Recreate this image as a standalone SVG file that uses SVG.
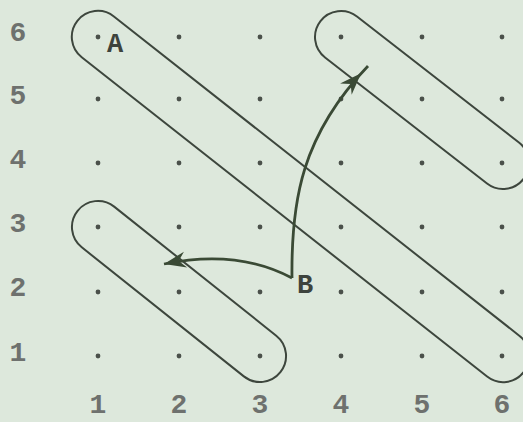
<svg xmlns="http://www.w3.org/2000/svg" width="523" height="422" viewBox="0 0 523 422">
<defs>
<style>
.bg{fill:#dde8dc}
.cap{fill:none;stroke:#3d463d;stroke-width:2}
.dot{fill:#4a504a}
.num{font-family:"Liberation Mono","DejaVu Sans Mono",monospace;font-weight:bold;font-size:28px;fill:#6e716e;text-anchor:middle}
.lbl{font-family:"Liberation Mono","Courier New",monospace;font-weight:bold;font-size:27px;fill:#3d433d}
.arr{fill:none;stroke:#3a4a35;stroke-width:2.8}
</style>
<marker id="ah" markerUnits="userSpaceOnUse" markerWidth="28" markerHeight="20" viewBox="-24 -10 28 20" refX="0" refY="0" orient="auto"><path d="M0,0 L-22,-8 L-15,0 L-22,8 Z" fill="#3a4a35"/></marker>
<marker id="ah2" markerUnits="userSpaceOnUse" markerWidth="36" markerHeight="20" viewBox="-24 -10 36 20" refX="10" refY="0" orient="auto"><path d="M0,0 L-22,-8 L-15,0 L-22,8 Z" fill="#3a4a35"/></marker>
</defs>
<rect class="bg" x="0" y="0" width="523" height="422"/>
<g id="axes">
<text class="num" x="18" y="41">6</text>
<text class="num" x="18" y="104">5</text>
<text class="num" x="18" y="168">4</text>
<text class="num" x="18" y="232">3</text>
<text class="num" x="18" y="296">2</text>
<text class="num" x="18" y="361">1</text>
<text class="num" x="98" y="413">1</text>
<text class="num" x="179" y="413">2</text>
<text class="num" x="260" y="413">3</text>
<text class="num" x="341" y="413">4</text>
<text class="num" x="422" y="413">5</text>
<text class="num" x="502" y="413">6</text>
</g>
<g id="dots">
<circle class="dot" cx="98" cy="37" r="2.4"/><circle class="dot" cx="179" cy="37" r="2.4"/><circle class="dot" cx="260" cy="37" r="2.4"/><circle class="dot" cx="341" cy="37" r="2.4"/><circle class="dot" cx="422" cy="37" r="2.4"/><circle class="dot" cx="502" cy="37" r="2.4"/>
<circle class="dot" cx="98" cy="99" r="2.4"/><circle class="dot" cx="179" cy="99" r="2.4"/><circle class="dot" cx="260" cy="99" r="2.4"/><circle class="dot" cx="341" cy="99" r="2.4"/><circle class="dot" cx="422" cy="99" r="2.4"/><circle class="dot" cx="502" cy="99" r="2.4"/>
<circle class="dot" cx="98" cy="163" r="2.4"/><circle class="dot" cx="179" cy="163" r="2.4"/><circle class="dot" cx="260" cy="163" r="2.4"/><circle class="dot" cx="341" cy="163" r="2.4"/><circle class="dot" cx="422" cy="163" r="2.4"/><circle class="dot" cx="502" cy="163" r="2.4"/>
<circle class="dot" cx="98" cy="227" r="2.4"/><circle class="dot" cx="179" cy="227" r="2.4"/><circle class="dot" cx="260" cy="227" r="2.4"/><circle class="dot" cx="341" cy="227" r="2.4"/><circle class="dot" cx="422" cy="227" r="2.4"/><circle class="dot" cx="502" cy="227" r="2.4"/>
<circle class="dot" cx="98" cy="292" r="2.4"/><circle class="dot" cx="179" cy="292" r="2.4"/><circle class="dot" cx="260" cy="292" r="2.4"/><circle class="dot" cx="341" cy="292" r="2.4"/><circle class="dot" cx="422" cy="292" r="2.4"/><circle class="dot" cx="502" cy="292" r="2.4"/>
<circle class="dot" cx="98" cy="356" r="2.4"/><circle class="dot" cx="179" cy="356" r="2.4"/><circle class="dot" cx="260" cy="356" r="2.4"/><circle class="dot" cx="341" cy="356" r="2.4"/><circle class="dot" cx="422" cy="356" r="2.4"/><circle class="dot" cx="502" cy="356" r="2.4"/>
</g>
<g id="capsule-big"><rect class="cap" x="-284" y="-26" width="568" height="52" rx="26" ry="26" transform="translate(300.5 196.5) rotate(38.22)"/></g>
<g id="capsule-upper"><rect class="cap" x="-128.6" y="-26" width="257.2" height="52" rx="26" ry="26" transform="translate(422 100) rotate(37.87)"/></g>
<g id="capsule-lower"><rect class="cap" x="-129.6" y="-26" width="259.2" height="52" rx="26" ry="26" transform="translate(179 291.5) rotate(38.53)"/></g>
<g id="point-A"><text class="lbl" x="107" y="52">A</text></g>
<g id="point-B"><text class="lbl" x="297" y="293">B</text></g>
<g id="connectors">
<path class="arr" d="M292,278 C291,200 302,135 368,66" marker-end="url(#ah2)"/>
<path class="arr" d="M292,278 C262,262 222,252 164,264" marker-end="url(#ah)"/>
</g>
</svg>
